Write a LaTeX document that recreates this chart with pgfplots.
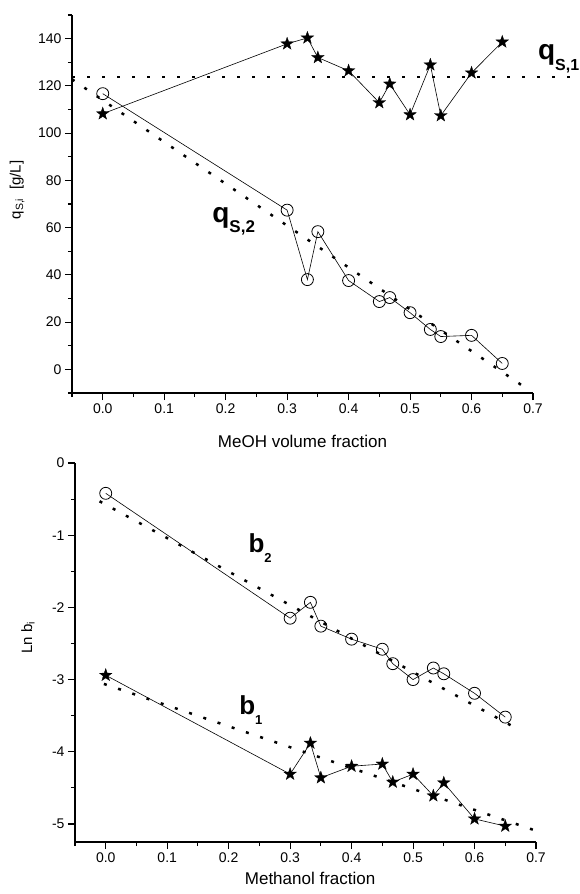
\documentclass[border=0pt]{standalone}
\usepackage{pgfplots}
\pgfplotsset{compat=1.18}
\usepackage{fontspec}
\setmainfont{Liberation Sans}
\pgfdeclareplotmark{fstar}{%
  \pgfpathmoveto{\pgfpointpolar{90}{1.2\pgfplotmarksize}}%
  \pgfpathlineto{\pgfpointpolar{126}{0.48\pgfplotmarksize}}%
  \pgfpathlineto{\pgfpointpolar{162}{1.2\pgfplotmarksize}}%
  \pgfpathlineto{\pgfpointpolar{198}{0.48\pgfplotmarksize}}%
  \pgfpathlineto{\pgfpointpolar{234}{1.2\pgfplotmarksize}}%
  \pgfpathlineto{\pgfpointpolar{270}{0.48\pgfplotmarksize}}%
  \pgfpathlineto{\pgfpointpolar{306}{1.2\pgfplotmarksize}}%
  \pgfpathlineto{\pgfpointpolar{342}{0.48\pgfplotmarksize}}%
  \pgfpathlineto{\pgfpointpolar{18}{1.2\pgfplotmarksize}}%
  \pgfpathlineto{\pgfpointpolar{54}{0.48\pgfplotmarksize}}%
  \pgfpathclose
  \pgfusepathqfillstroke}
\pgfplotsset{
  myax/.style={
    scale only axis, width=461pt, height=378pt,
    axis lines*=left,
    axis line style={line width=1.5pt},
    tick style={line width=1.1pt, black},
    tick align=outside,
    major tick length=7pt, minor tick length=4pt,
    xmin=-0.05, xmax=0.7,
    xtick={0,0.1,0.2,0.3,0.4,0.5,0.6,0.7},
    minor xtick={-0.05,0.05,0.15,0.25,0.35,0.45,0.55,0.65},
    xticklabels={0.0,0.1,0.2,0.3,0.4,0.5,0.6,0.7},
    /pgf/number format/assume math mode=true,
    tick label style={font=\fontsize{14}{14}\selectfont},
    label style={font=\fontsize{17}{17}\selectfont},
    clip=false,
  },
  dline/.style={black, line width=2.5pt, dash pattern=on 3pt off 12pt},
  cser/.style={black, line width=0.6pt, mark=o, mark size=6pt, mark options={solid, fill=white, line width=0.8pt}},
  sser/.style={black, line width=0.6pt, mark=fstar, mark size=5.5pt, mark options={solid, fill=black, line width=0.3pt}},
}
\begin{document}
\begin{tikzpicture}
\begin{axis}[myax,
  ymin=-10, ymax=150,
  ytick={0,20,40,60,80,100,120,140},
  minor ytick={-10,10,30,50,70,90,110,130,150},
  xlabel={MeOH volume fraction},
  ylabel={q\textsubscript{S,i}\ \ [g/L]},
  x label style={at={(axis description cs:0.5,-0.127)}, anchor=center},
  y label style={at={(axis description cs:-0.119,0.537)}, anchor=center, font=\fontsize{15}{15}\selectfont},
]
\addplot[dline] coordinates {(-0.05,123.8) (0.776,123.8)};
\addplot[dline] coordinates {(-0.05,122.8) (0.69,-8.2)};
\addplot[sser] coordinates {
(0.0,108.2) (0.3,137.8) (0.333,140.3) (0.35,132.0) (0.4,126.4) (0.45,112.9)
(0.467,120.8) (0.5,107.8) (0.533,128.9) (0.55,107.4) (0.6,125.5) (0.65,138.6)};
\addplot[cser] coordinates {
(0.0,116.7) (0.3,67.4) (0.333,38.0) (0.35,58.3) (0.4,37.6) (0.45,28.7)
(0.467,30.4) (0.5,24.0) (0.533,16.9) (0.55,13.9) (0.6,14.4) (0.65,2.5)};
\node[anchor=base west, inner sep=0pt, font=\bfseries] at (axis cs:0.708,131)
  {\fontsize{28}{28}\selectfont q\raisebox{-11pt}{\fontsize{16}{16}\selectfont S,1}};
\node[anchor=base west, inner sep=0pt, font=\bfseries] at (axis cs:0.178,62)
  {\fontsize{28}{28}\selectfont q\raisebox{-10pt}{\fontsize{17}{17}\selectfont S,2}};
\end{axis}
\begin{axis}[myax, at={(3pt,-449pt)}, height=379pt,
  ymin=-5.25, ymax=0,
  ytick={0,-1,-2,-3,-4,-5},
  minor ytick={-0.5,-1.5,-2.5,-3.5,-4.5},
  xlabel={Methanol fraction},
  ylabel={Ln b\textsubscript{i}},
  x label style={at={(axis description cs:0.51,-0.095)}, anchor=center},
  y label style={at={(axis description cs:-0.102,0.54)}, anchor=center, font=\fontsize{15}{15}\selectfont},
]
\addplot[dline] coordinates {(-0.01,-0.53) (0.669,-3.68)};
\addplot[dline] coordinates {(-0.003,-3.06) (0.702,-5.10)};
\addplot[cser] coordinates {
(0.0,-0.42) (0.3,-2.15) (0.333,-1.93) (0.35,-2.26) (0.4,-2.44) (0.45,-2.58)
(0.467,-2.78) (0.5,-3.0) (0.533,-2.84) (0.55,-2.92) (0.6,-3.19) (0.65,-3.52)};
\addplot[sser] coordinates {
(0.0,-2.94) (0.3,-4.31) (0.333,-3.88) (0.35,-4.36) (0.4,-4.2) (0.45,-4.17)
(0.467,-4.42) (0.5,-4.31) (0.533,-4.61) (0.55,-4.43) (0.6,-4.93) (0.65,-5.03)};
\node[anchor=base west, inner sep=0pt, font=\bfseries] at (axis cs:0.232,-1.24)
  {\fontsize{26}{26}\selectfont b\raisebox{-10pt}{\fontsize{13}{13}\selectfont 2}};
\node[anchor=base west, inner sep=0pt, font=\bfseries] at (axis cs:0.217,-3.48)
  {\fontsize{26}{26}\selectfont b\raisebox{-10pt}{\fontsize{13}{13}\selectfont 1}};
\end{axis}
\pgfresetboundingbox
\path[use as bounding box] (-72pt,-501pt) rectangle (507pt,393pt);
\end{tikzpicture}
\end{document}
